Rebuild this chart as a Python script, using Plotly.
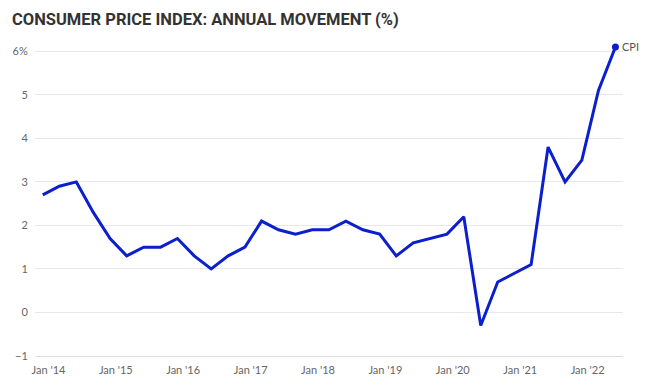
import plotly.graph_objects as go

dates = ["2013-12-01", "2014-03-01", "2014-06-01", "2014-09-01", "2014-12-01",
         "2015-03-01", "2015-06-01", "2015-09-01", "2015-12-01",
         "2016-03-01", "2016-06-01", "2016-09-01", "2016-12-01",
         "2017-03-01", "2017-06-01", "2017-09-01", "2017-12-01",
         "2018-03-01", "2018-06-01", "2018-09-01", "2018-12-01",
         "2019-03-01", "2019-06-01", "2019-09-01", "2019-12-01",
         "2020-03-01", "2020-06-01", "2020-09-01", "2020-12-01",
         "2021-03-01", "2021-06-01", "2021-09-01", "2021-12-01",
         "2022-03-01", "2022-06-01"]
cpi = [2.7, 2.9, 3.0, 2.3, 1.7,
       1.3, 1.5, 1.5, 1.7,
       1.3, 1.0, 1.3, 1.5,
       2.1, 1.9, 1.8, 1.9,
       1.9, 2.1, 1.9, 1.8,
       1.3, 1.6, 1.7, 1.8,
       2.2, -0.3, 0.7, 0.9,
       1.1, 3.8, 3.0, 3.5,
       5.1, 6.1]

x_tick_vals = ["2014-01-01", "2015-01-01", "2016-01-01", "2017-01-01", "2018-01-01",
               "2019-01-01", "2020-01-01", "2021-01-01", "2022-01-01"]
x_tick_text = ["Jan '14", "Jan '15", "Jan '16", "Jan '17", "Jan '18",
               "Jan '19", "Jan '20", "Jan '21", "Jan '22"]
y_tick_vals = [-1, 0, 1, 2, 3, 4, 5, 6]
y_tick_text = ["\u22121", "0", "1", "2", "3", "4", "5", "6%"]

series_name = "CPI"
line_color = "#0b1fcc"

# page body has an 8px default margin, so the figure is sized to fit the window
W, H = 642, 380

fig = go.Figure()
fig.add_trace(go.Scatter(
    x=dates, y=cpi, mode="lines",
    line=dict(color=line_color, width=3),
    showlegend=False, hoverinfo="skip",
))
fig.add_trace(go.Scatter(
    x=[dates[-1]], y=[cpi[-1]], mode="markers",
    marker=dict(color=line_color, size=7),
    showlegend=False, hoverinfo="skip", cliponaxis=False,
))
fig.add_annotation(
    x=dates[-1], y=cpi[-1], text=series_name, showarrow=False,
    xanchor="left", yanchor="middle", xshift=5,
    font=dict(family="Lato, sans-serif", size=11, color="#555555"),
)

fig.update_layout(
    template="none",
    width=W, height=H,
    margin=dict(l=27, r=27, t=32, b=32, autoexpand=False),
    paper_bgcolor="white", plot_bgcolor="white",
    title=dict(
        text="<b>CONSUMER PRICE INDEX: ANNUAL MOVEMENT (%)</b>",
        x=4 / W, xref="container", xanchor="left",
        y=1 - 11.5 / H, yref="container", yanchor="middle",
        pad=dict(l=0, r=0, t=0, b=0),
        font=dict(family="Roboto, Arial, sans-serif", size=16.5, color="#333333"),
    ),
    font=dict(family="Lato, sans-serif", size=11, color="#666666"),
)

fig.update_xaxes(
    type="date", automargin=False,
    range=["2013-10-20", "2022-07-12"],
    tickvals=x_tick_vals, ticktext=x_tick_text,
    showgrid=False, zeroline=False,
    showline=True, linecolor="#dddddd", linewidth=1,
    ticks="outside", ticklen=4, tickcolor="white",
    tickfont=dict(family="Lato, sans-serif", size=11, color="#666666"),
)
fig.update_yaxes(
    automargin=False,
    range=[-1, 6.26],
    tickvals=y_tick_vals, ticktext=y_tick_text,
    showgrid=True, gridcolor="#e8e8e8", gridwidth=1,
    zeroline=False, showline=False,
    ticks="outside", ticklen=4, tickcolor="white",
    tickfont=dict(family="Lato, sans-serif", size=11, color="#666666"),
)

fig.write_html("out.html")
